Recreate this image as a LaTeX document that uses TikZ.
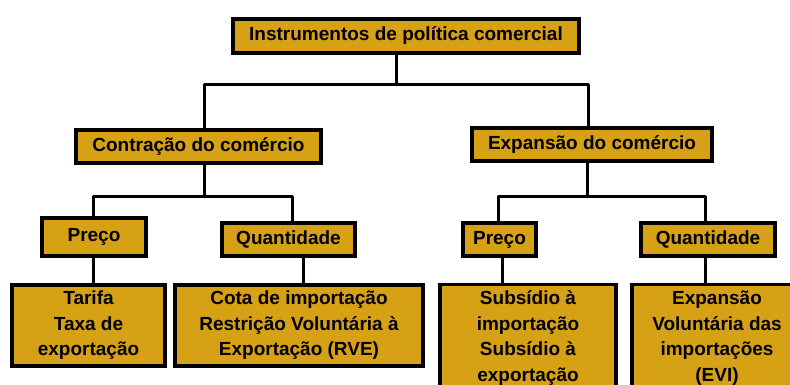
\documentclass[tikz,border=0pt]{standalone}
\usepackage{fontspec}
\setmainfont{Liberation Sans}
\usepackage{tikz}
\usetikzlibrary{positioning,calc}
\definecolor{gold}{RGB}{214,161,20}
\tikzset{
  box/.style={draw=black,line width=3.5pt,fill=gold,inner sep=0pt,
    align=center,font=\bfseries\fontsize{19}{25.5}\selectfont},
  link/.style={line width=3pt,line join=round}
}

\begin{document}
\begin{tikzpicture}[x=1pt,y=-1pt]
\clip (0,0) rectangle (790,385);
\fill[white] (0,0) rectangle (790,385);
% boxes
\node[box,minimum width=346,minimum height=34] (top) at (406,36) {Instrumentos de política comercial};
\node[box,minimum width=245,minimum height=33] (ct) at (198.5,146.5) {Contração do comércio};
\node[box,minimum width=240,minimum height=33] (ex) at (592,144.5) {Expansão do comércio};
\node[box,minimum width=104,minimum height=38] (pl) at (94,237) {Preço};
\node[box,minimum width=133,minimum height=33] (ql) at (288.5,239.5) {Quantidade};
\node[box,minimum width=73,minimum height=33] (pr) at (499.5,239.5) {Preço};
\node[box,minimum width=134,minimum height=33] (qr) at (708,239.5) {Quantidade};
\node[box,minimum width=153,minimum height=81] (bl) at (88.5,325.5) {Tarifa\\Taxa de\\exportação};
\node[box,minimum width=248,minimum height=81] (bm) at (299,325.5) {Cota de importação\\Restrição Voluntária à\\Exportação (RVE)};
\node[box,minimum width=176,minimum height=107] (bs) at (528,338) {Subsídio à\\importação\\Subsídio à\\exportação};
\node[box,minimum width=170,minimum height=107] (be) at (717,338) {Expansão\\Voluntária das\\importações\\(EVI)};
% junctions
\coordinate (j0) at (396,85);
\coordinate (j0l) at (204,85);
\coordinate (j0r) at (588,85);
\coordinate (j1) at (204,196);
\coordinate (j1l) at (93,196);
\coordinate (j1r) at (292,196);
\coordinate (j2) at (587,196);
\coordinate (j2l) at (498,196);
\coordinate (j2r) at (705,196);
\coordinate (d1) at (93,0);
\coordinate (d2) at (303,0);
\coordinate (d3) at (502,0);
\coordinate (d4) at (705,0);
% connectors
\draw[link] (top.south -| j0) -- (j0);
\draw[link] (ct.north -| j0l) -- (j0l) -- (j0r) -- (ex.north -| j0r);
\draw[link] (ct.south -| j1) -- (j1);
\draw[link] (pl.north -| j1l) -- (j1l) -- (j1r) -- (ql.north -| j1r);
\draw[link] (ex.south -| j2) -- (j2);
\draw[link] (pr.north -| j2l) -- (j2l) -- (j2r) -- (qr.north -| j2r);
\draw[link] (pl.south -| d1) -- (bl.north -| d1);
\draw[link] (ql.south -| d2) -- (bm.north -| d2);
\draw[link] (pr.south -| d3) -- (bs.north -| d3);
\draw[link] (qr.south -| d4) -- (be.north -| d4);
\end{tikzpicture}
\end{document}
